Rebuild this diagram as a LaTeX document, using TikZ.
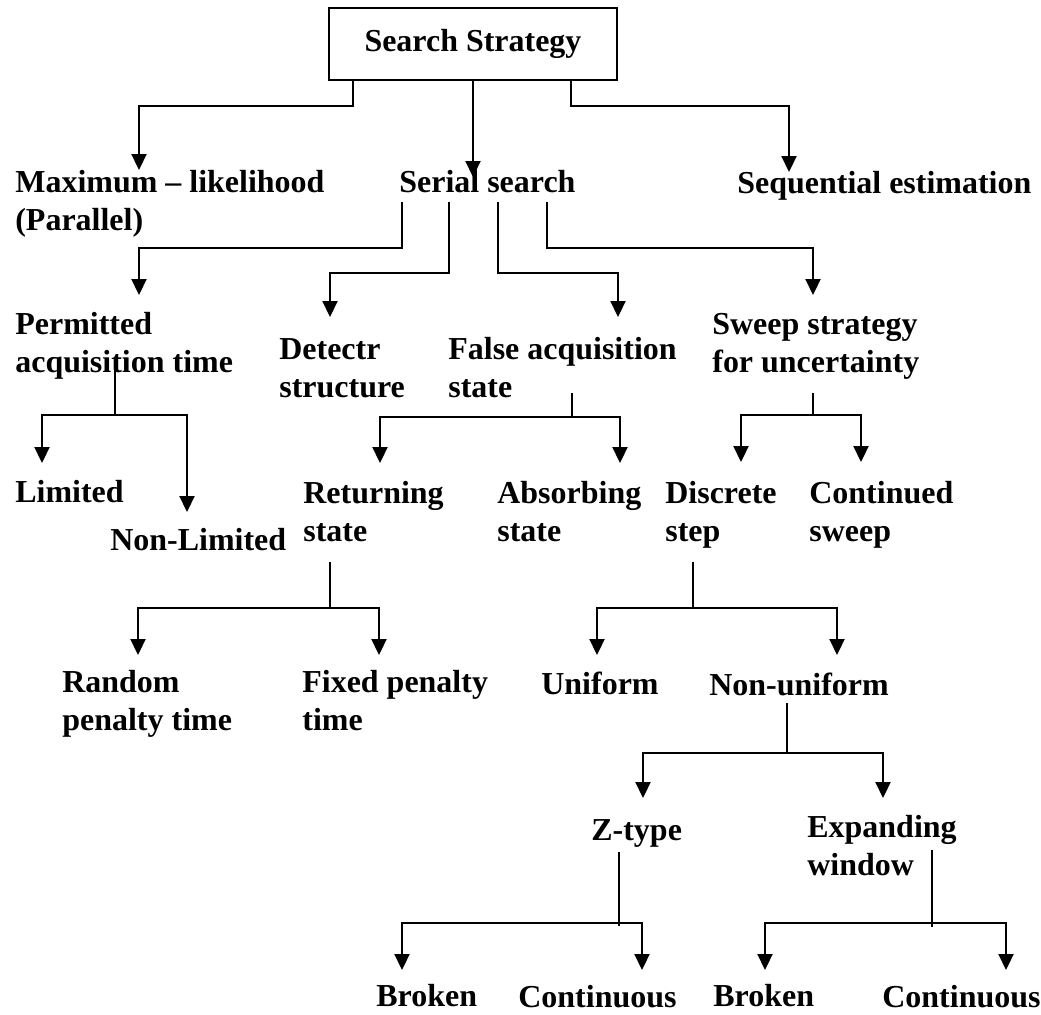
\documentclass[tikz,border=0pt]{standalone}
\usepackage{fontspec}
\setmainfont{Liberation Serif}
\usetikzlibrary{arrows.meta}
\newdimen\px
\px=0.02cm
\tikzset{
  txt/.style={anchor=base west,inner sep=0pt,align=left},
  arrow/.style={line width=0.044cm,-{Triangle[length=0.32cm,width=0.3cm]}},
  stem/.style={line width=0.028cm},
}
\begin{document}
\begin{tikzpicture}[x=0.02cm,y=-0.02cm,font=\bfseries\fontsize{18.2}{21.6}\selectfont]
\useasboundingbox (0,0) rectangle (1041,1014);
% level 0 and 1 (multi-line nodes sit on their last line)
\node[draw,line width=0.046cm,minimum width=5.76cm,minimum height=1.44cm,inner sep=0pt] (root) at (473,44) {Search Strategy};
\node[txt] (maxl) at (15,230) {Maximum – likelihood\\(Parallel)};
\node[txt] (serial) at (399,192) {Serial search};
\node[txt] (seqe) at (737,193) {Sequential estimation};
% level 2
\node[txt] (perm) at (15,372) {Permitted\\acquisition time};
\node[txt] (detr) at (279,397) {Detectr\\structure};
\node[txt] (fals) at (448,397) {False acquisition\\state};
\node[txt] (swep) at (712,372) {Sweep strategy\\for uncertainty};
% level 3
\node[txt] (lim) at (15,502) {Limited};
\node[txt] (nonl) at (110,550) {Non-Limited};
\node[txt] (ret) at (303,541) {Returning\\state};
\node[txt] (abs) at (497,541) {Absorbing\\state};
\node[txt] (disc) at (665,541) {Discrete\\step};
\node[txt] (cont) at (809,541) {Continued\\sweep};
% level 4
\node[txt] (rand) at (62,730) {Random\\penalty time};
\node[txt] (fixd) at (302,730) {Fixed penalty\\time};
\node[txt] (unif) at (541,694) {Uniform};
\node[txt] (nonu) at (709,695) {Non-uniform};
% level 5 and 6
\node[txt] (ztyp) at (591,840) {Z-type};
\node[txt] (expw) at (807,875) {Expanding\\window};
\node[txt] (brk1) at (376,1006) {Broken};
\node[txt] (con1) at (518,1007) {Continuous};
\node[txt] (brk2) at (713,1006) {Broken};
\node[txt] (con2) at (882,1007) {Continuous};

% connectors from the root
\draw[arrow] ([xshift=25\px]root.south west) -- ++(0,25) -| ([xshift=124\px,yshift=60\px]maxl.base west);
\draw[arrow] (root.south) -- ([xshift=74\px,yshift=15\px]serial.base west);
\draw[arrow] ([xshift=-47\px]root.south east) -- ++(0,25) -| ([xshift=52\px,yshift=21\px]seqe.base west);

% connectors from the serial search
\draw[arrow] ([xshift=3\px,yshift=-10\px]serial.base west) -- ++(0,46) -| ([xshift=124\px,yshift=77\px]perm.base west);
\draw[arrow] ([xshift=50\px,yshift=-10\px]serial.base west) -- ++(0,71) -| ([xshift=51\px,yshift=80\px]detr.base west);
\draw[arrow] ([xshift=99\px,yshift=-10\px]serial.base west) -- ++(0,71) -| ([xshift=170\px,yshift=80\px]fals.base west);
\draw[arrow] ([xshift=148\px,yshift=-10\px]serial.base west) -- ++(0,46) -| ([xshift=101\px,yshift=77\px]swep.base west);

% two-way branches
\coordinate (jperm) at (115,415);
\draw[stem] ([xshift=100\px,yshift=5\px]perm.base west) -- (jperm);
\draw[arrow] (jperm) -| ([xshift=27\px,yshift=39\px]lim.base west);
\draw[arrow] (jperm) -| ([xshift=77\px,yshift=38\px]nonl.base west);

\coordinate (jfals) at (572,417);
\draw[stem] ([xshift=124\px,yshift=4\px]fals.base west) -- (jfals);
\draw[arrow] (jfals) -| ([xshift=77\px,yshift=78\px]ret.base west);
\draw[arrow] (jfals) -| ([xshift=123\px,yshift=78\px]abs.base west);

\coordinate (jswep) at (813,415);
\draw[stem] ([xshift=101\px,yshift=-21\px]swep.base west) -- (jswep);
\draw[arrow] (jswep) -| ([xshift=76\px,yshift=79\px]disc.base west);
\draw[arrow] (jswep) -| ([xshift=52\px,yshift=79\px]cont.base west);

\coordinate (jret) at (330,608);
\draw[stem] ([xshift=27\px,yshift=-21\px]ret.base west) -- (jret);
\draw[arrow] (jret) -| ([xshift=76\px,yshift=75\px]rand.base west);
\draw[arrow] (jret) -| ([xshift=77\px,yshift=75\px]fixd.base west);

\coordinate (jdisc) at (693,608);
\draw[stem] ([xshift=28\px,yshift=-21\px]disc.base west) -- (jdisc);
\draw[arrow] (jdisc) -| ([xshift=56\px,yshift=39\px]unif.base west);
\draw[arrow] (jdisc) -| ([xshift=128\px,yshift=40\px]nonu.base west);

\coordinate (jnonu) at (787,753);
\draw[stem] ([xshift=78\px,yshift=-8\px]nonu.base west) -- (jnonu);
\draw[arrow] (jnonu) -| ([xshift=52\px,yshift=42\px]ztyp.base west);
\draw[arrow] (jnonu) -| ([xshift=76\px,yshift=77\px]expw.base west);

\coordinate (jztyp) at (619,923);
\draw[stem] ([xshift=28\px,yshift=-12\px]ztyp.base west) -- ++(0,74);
\draw[arrow] (jztyp) -| ([xshift=26\px,yshift=36\px]brk1.base west);
\draw[arrow] (jztyp) -| ([xshift=124\px,yshift=37\px]con1.base west);

\coordinate (jexpw) at (932,923);
\draw[stem] ([xshift=125\px,yshift=25\px]expw.base west) -- ++(0,77);
\draw[arrow] (jexpw) -| ([xshift=52\px,yshift=36\px]brk2.base west);
\draw[arrow] (jexpw) -| ([xshift=124\px,yshift=37\px]con2.base west);
\end{tikzpicture}
\end{document}
